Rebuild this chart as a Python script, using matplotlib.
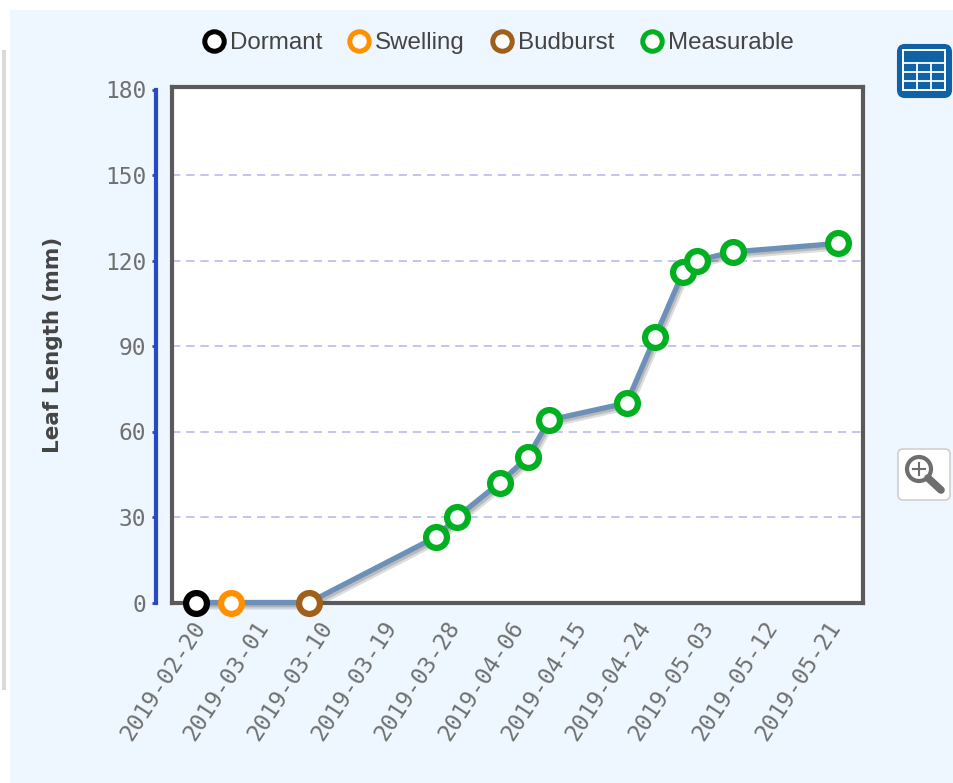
import matplotlib
matplotlib.use("Agg")
import matplotlib.pyplot as plt
import matplotlib.dates as mdates
import matplotlib.patheffects as pe
import matplotlib.transforms as mtrans
from matplotlib.patches import Rectangle, FancyBboxPatch, Circle
from matplotlib.lines import Line2D
from datetime import date
import numpy as np

dates = ["2019-02-20","2019-02-25","2019-03-08","2019-03-26","2019-03-29","2019-04-04",
         "2019-04-08","2019-04-11","2019-04-22","2019-04-26","2019-04-30","2019-05-02",
         "2019-05-07","2019-05-22"]
lengths = [0,0,0,23,30,42,51,64,70,93,116,120,123,126]
stages = ["Dormant","Swelling","Budburst"]+["Measurable"]*11
stage_names = ["Dormant","Swelling","Budburst","Measurable"]
stage_colors = ["#000000","#FF9000","#A0601A","#00B020"]
tick_dates = ["2019-02-20","2019-03-01","2019-03-10","2019-03-19","2019-03-28","2019-04-06",
              "2019-04-15","2019-04-24","2019-05-03","2019-05-12","2019-05-21"]
y_ticks = [0,30,60,90,120,150,180]

W,H = 954,783
fig = plt.figure(figsize=(W/100,H/100),dpi=100,facecolor="white")
def fx(x): return x/W
def fy(y): return 1-y/H

# page panel
fig.add_artist(Rectangle((fx(10),0),1-fx(10),fy(10),transform=fig.transFigure,fc="#EEF6FF",ec="none",zorder=-5))
fig.add_artist(Rectangle((fx(2),fy(690)),4/W,(690-50)/H,transform=fig.transFigure,fc="#DADADA",ec="none",zorder=-5))

L,R,T,B = 172,863,87,603
ax = fig.add_axes([fx(L),fy(B),(R-L)/W,(B-T)/H],facecolor="white")
x = mdates.date2num([date.fromisoformat(d) for d in dates])
x0 = mdates.date2num(date(2019,2,20))
ax.set_xlim(x0-24/7.06,x0+(R-196)/7.06)
ax.set_ylim((602.5-B)/2.85,(602.5-T)/2.85)
for s in ax.spines.values():
    s.set_linewidth(3); s.set_color("#5A5A5A")

ax.yaxis.grid(True,color="#B8BCE8",ls=(0,(5,3.5)),lw=1.2)
ax.set_axisbelow(True)
ax.set_yticks(y_ticks[1:-1])
ax.tick_params(axis="y",length=0,labelleft=False)
ax.xaxis.set_tick_params(length=0)
ax.set_xticks(mdates.date2num([date.fromisoformat(d) for d in tick_dates]))
ax.set_xticklabels(tick_dates,rotation=57,ha="right",rotation_mode="anchor",fontsize=16.5,color="#707070",family="DejaVu Sans Mono")
ax.tick_params(axis="x",pad=10)
shift = mtrans.ScaledTranslation(-5/100,0,fig.dpi_scale_trans)
for t in ax.get_xticklabels():
    t.set_transform(t.get_transform()+shift)

line, = ax.plot(x,lengths,color="#6C90B8",lw=3.8,zorder=3,clip_on=False,
    path_effects=[pe.SimpleLineShadow(offset=(2,-2.5),shadow_color="#555555",alpha=0.2,linewidth=5),
                  pe.SimpleLineShadow(offset=(1.5,-2),shadow_color="#555555",alpha=0.25,linewidth=3),pe.Normal()])
for nm,c in zip(stage_names,stage_colors):
    idx=[i for i,s in enumerate(stages) if s==nm]
    ax.plot(x[idx],np.array(lengths)[idx],ls="none",marker="o",ms=15,mew=4.5,mec=c,mfc="white",zorder=5,clip_on=False)

# blue y axis
ay = fig.add_axes([fx(156),fy(B),0.001,(B-T)/H],facecolor="none")
ay.set_ylim(ax.get_ylim())
for k in ["top","right","bottom"]: ay.spines[k].set_visible(False)
ay.spines["left"].set_color("#2848C8"); ay.spines["left"].set_linewidth(3)
ay.spines["left"].set_bounds(0,180)
ay.set_xticks([])
ay.set_yticks(y_ticks)
ay.tick_params(axis="y",length=3,width=2,color="#2848C8",pad=4,labelsize=16.5,labelcolor="#707070")
for t in ay.get_yticklabels(): t.set_family("DejaVu Sans Mono")
fig.text(fx(53),fy(345),"Leaf Length (mm)",rotation=90,ha="center",va="center",fontsize=15.5,fontweight="bold",color="#444444")

# legend
handles=[Line2D([],[],ls="none",marker="o",ms=14,mew=3.6,mec=c,mfc="white") for c in stage_colors]
fig.legend(handles,stage_names,loc="center",bbox_to_anchor=(fx(491.5),fy(43)),ncol=4,frameon=False,
           labelcolor="#444444",handletextpad=-0.35,columnspacing=0.55,
           prop={"family":"Liberation Sans","size":17.4})

# table icon
ic = fig.add_axes([0,0,1,1],facecolor="none"); ic.set_xlim(0,W); ic.set_ylim(H,0); ic.axis("off"); ic.set_zorder(10)
ic.add_patch(FancyBboxPatch((898,45),53,52,boxstyle="round,pad=0,rounding_size=7",fc="#0F62A5",ec="#0F62A5",lw=1.5))
ic.add_patch(Rectangle((903,50),42,40,fc="#0F62A5",ec="white",lw=1.4))
for xx in [917,931]: ic.plot([xx,xx],[63,90],color="white",lw=1.3)
for yy in [63,72,81]: ic.plot([903,945],[yy,yy],color="white",lw=1.3)
# zoom button
ic.add_patch(FancyBboxPatch((898,449),52,51,boxstyle="round,pad=0,rounding_size=5",fc="white",ec="#D0D0D0",lw=1.2))
ic.add_patch(Circle((919,469),12,fc="white",ec="#6E6E6E",lw=3))
ic.plot([928,941],[478,490],color="#6E6E6E",lw=5.5,solid_capstyle="round")
ic.plot([913,925],[469,469],color="#6E6E6E",lw=1.5)
ic.plot([919,919],[463,475],color="#6E6E6E",lw=1.5)

fig.savefig("out.png",dpi=100,facecolor=fig.get_facecolor())
